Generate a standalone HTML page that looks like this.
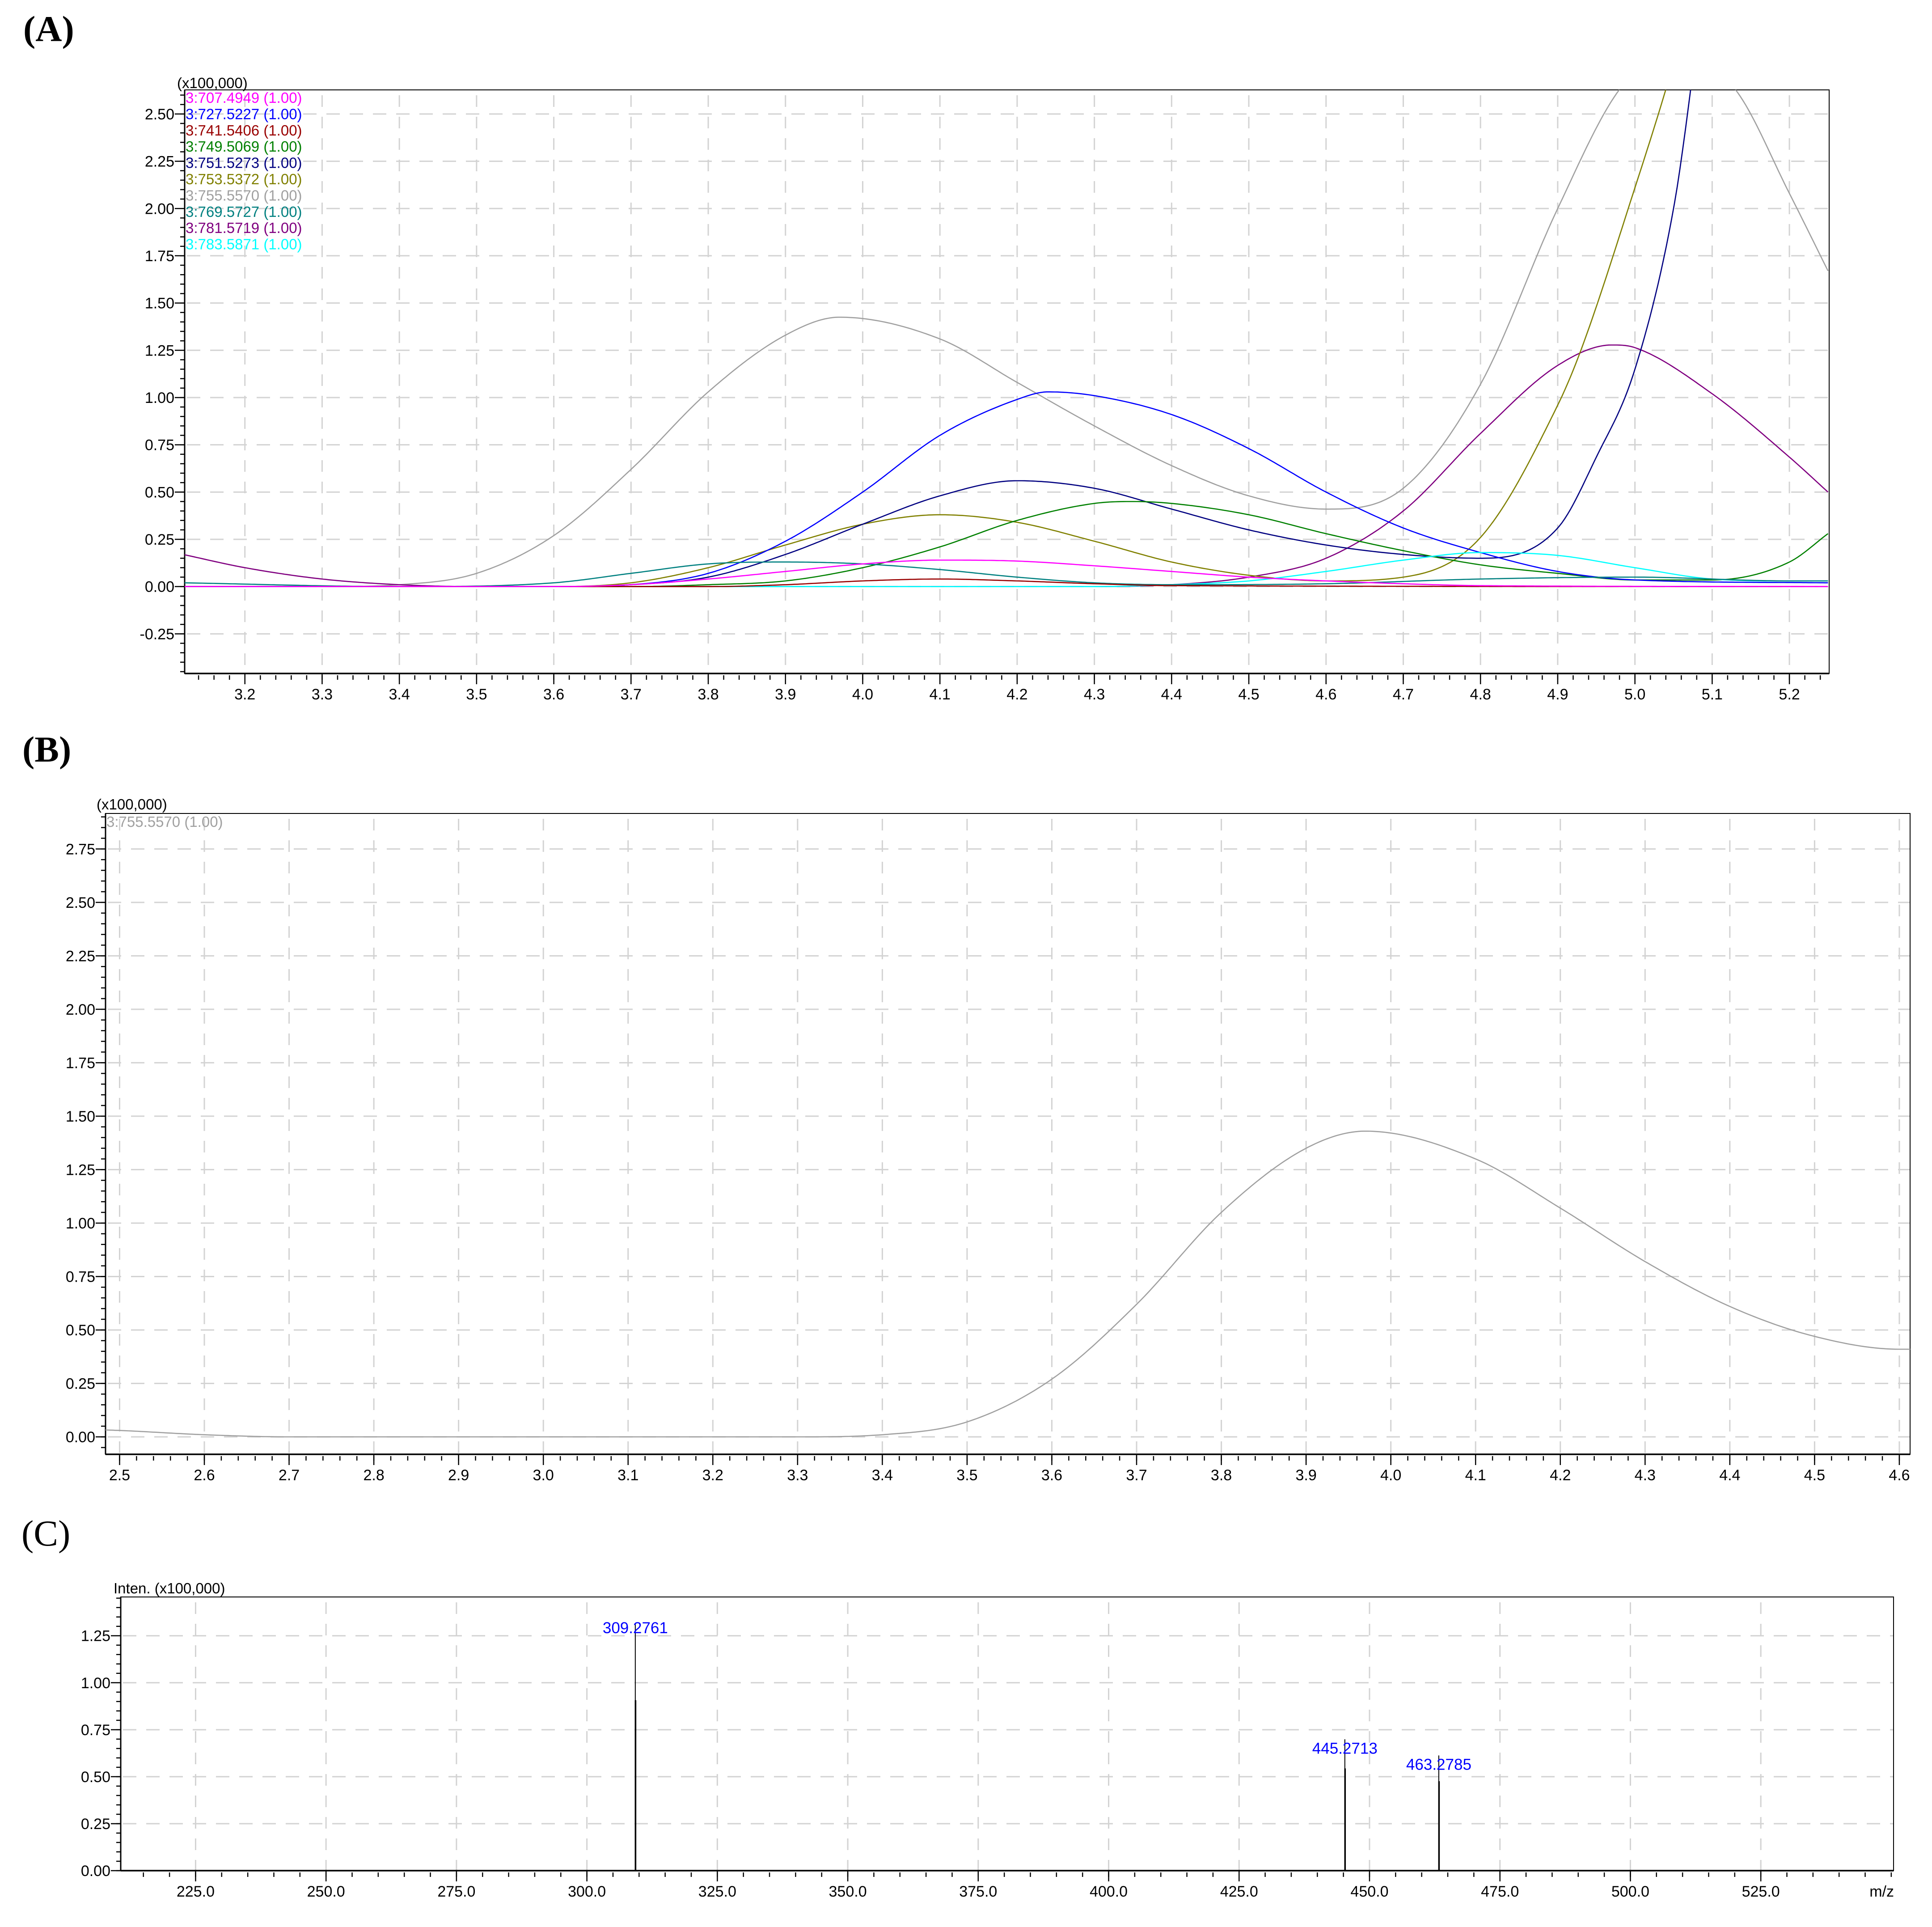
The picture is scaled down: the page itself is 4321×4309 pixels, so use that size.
<!DOCTYPE html>
<html><head><meta charset="utf-8"><style>
html,body{margin:0;padding:0;background:#fff;}
svg text{font-family:"Liberation Sans",sans-serif;}
</style></head><body>
<svg id="fig" xmlns="http://www.w3.org/2000/svg" width="4321" height="4304" viewBox="0 0 4321 4304">
<rect x="0" y="0" width="4321" height="4304" fill="#fff"/>
<text x="52" y="92" style="font-family:'Liberation Serif',serif;font-weight:bold;font-size:82px">(A)</text>
<text x="50" y="1703" style="font-family:'Liberation Serif',serif;font-weight:bold;font-size:82px">(B)</text>
<text x="48" y="3456" style="font-family:'Liberation Serif',serif;font-size:82px">(C)</text>
</svg>
<script>
// ---------- Panel A data (retention time in min, intensity x100,000) ----------
const aSeriesNames = ["3:707.4949 (1.00)","3:727.5227 (1.00)","3:741.5406 (1.00)","3:749.5069 (1.00)","3:751.5273 (1.00)","3:753.5372 (1.00)","3:755.5570 (1.00)","3:769.5727 (1.00)","3:781.5719 (1.00)","3:783.5871 (1.00)"];
const aSeriesColors = ["#ff00ff","#0000ff","#990000","#008000","#000080","#808000","#a0a0a0","#008080","#800080","#00ffff"];
const aRt707 = [3.12,3.6,3.7,3.8,3.9,4.0,4.1,4.2,4.3,4.4,4.5,4.6,4.7,4.8,5.25];
const aInt707 = [0,0,0.01,0.04,0.08,0.12,0.14,0.135,0.11,0.08,0.05,0.03,0.015,0.005,0];
const aRt727 = [3.12,3.6,3.7,3.8,3.9,4.0,4.1,4.2,4.24,4.3,4.4,4.5,4.6,4.7,4.8,4.9,5.0,5.25];
const aInt727 = [0,0,0.01,0.07,0.24,0.5,0.8,0.99,1.03,1.01,0.91,0.73,0.5,0.31,0.18,0.08,0.035,0.02];
const aRt741 = [3.12,3.8,3.9,4.0,4.1,4.2,4.3,4.4,5.25];
const aInt741 = [0,0,0.01,0.03,0.04,0.03,0.015,0.005,0];
const aRt749 = [3.12,3.7,3.8,3.9,4.0,4.1,4.2,4.3,4.35,4.4,4.5,4.6,4.7,4.8,4.9,5.0,5.1,5.2,5.25];
const aInt749 = [0,0,0.01,0.03,0.1,0.21,0.35,0.44,0.45,0.44,0.38,0.28,0.19,0.115,0.07,0.035,0.035,0.13,0.28];
const aRt751 = [3.12,3.6,3.7,3.8,3.9,4.0,4.1,4.2,4.3,4.4,4.5,4.6,4.7,4.8,4.9,4.95,5.0,5.05,5.1,5.25];
const aInt751 = [0,0,0.01,0.05,0.17,0.33,0.48,0.56,0.52,0.41,0.3,0.22,0.17,0.15,0.31,0.685,1.15,2.0,3.4,5];
const aRt753 = [3.12,3.6,3.7,3.8,3.9,4.0,4.1,4.2,4.3,4.4,4.5,4.6,4.7,4.8,4.9,4.93,5.0,5.04,5.1,5.25];
const aInt753 = [0,0,0.02,0.1,0.22,0.33,0.38,0.34,0.24,0.13,0.06,0.03,0.05,0.26,0.96,1.25,2.11,2.63,3.5,5];
const aRt755 = [3.12,3.3,3.4,3.5,3.6,3.7,3.8,3.9,3.97,4.1,4.2,4.3,4.4,4.5,4.6,4.7,4.8,4.9,4.98,5.05,5.13,5.2,5.25];
const aInt755 = [0.0,0.0,0.01,0.07,0.27,0.62,1.03,1.33,1.425,1.31,1.08,0.85,0.64,0.48,0.41,0.52,1.07,2.0,2.63,2.85,2.63,2.08,1.67];
const aRt769 = [3.12,3.4,3.6,3.7,3.8,3.9,4.0,4.1,4.2,4.3,4.4,4.6,4.8,5.0,5.2,5.25];
const aInt769 = [0.02,0.0,0.02,0.07,0.12,0.13,0.12,0.09,0.05,0.02,0.01,0.015,0.04,0.05,0.03,0.03];
const aRt781 = [3.12,3.2,3.3,3.4,3.5,4.3,4.4,4.5,4.6,4.7,4.8,4.9,4.97,5.0,5.1,5.2,5.25];
const aInt781 = [0.17,0.1,0.04,0.01,0,0,0.01,0.05,0.15,0.4,0.81,1.17,1.278,1.264,1.02,0.685,0.5];
const aRt783 = [3.12,4.3,4.4,4.5,4.6,4.7,4.8,4.9,5.0,5.1,5.2,5.25];
const aInt783 = [0,0,0.01,0.03,0.08,0.14,0.18,0.165,0.1,0.04,0.03,0.03];
const aXTicks = ["3.2","3.3","3.4","3.5","3.6","3.7","3.8","3.9","4.0","4.1","4.2","4.3","4.4","4.5","4.6","4.7","4.8","4.9","5.0","5.1","5.2"];
const aYTicks = ["-0.25","0.00","0.25","0.50","0.75","1.00","1.25","1.50","1.75","2.00","2.25","2.50"];

// ---------- Panel B data ----------
const bRt755 = [2.46,2.5,2.6,2.7,3.3,3.4,3.5,3.6,3.7,3.8,3.9,3.97,4.1,4.2,4.3,4.4,4.5,4.6,4.62];
const bInt755 = [0.035,0.03,0.01,0.0,0.0,0.01,0.07,0.27,0.62,1.05,1.35,1.43,1.30,1.07,0.82,0.61,0.47,0.41,0.41];
const bXTicks = ["2.5","2.6","2.7","2.8","2.9","3.0","3.1","3.2","3.3","3.4","3.5","3.6","3.7","3.8","3.9","4.0","4.1","4.2","4.3","4.4","4.5","4.6"];
const bYTicks = ["0.00","0.25","0.50","0.75","1.00","1.25","1.50","1.75","2.00","2.25","2.50","2.75"];

// ---------- Panel C data (mass spectrum) ----------
const cMz = [309.2761,445.2713,463.2785];
const cInten = [1.316,0.699,0.613];
const cIntenCore = [0.907,0.544,0.476];
const cPeakLabels = ["309.2761","445.2713","463.2785"];
const cXTicks = ["225.0","250.0","275.0","300.0","325.0","350.0","375.0","400.0","425.0","450.0","475.0","500.0","525.0"];
const cYTicks = ["0.00","0.25","0.50","0.75","1.00","1.25"];

const NS="http://www.w3.org/2000/svg";
const svg=document.getElementById('fig');
function mk(tag,attrs,parent){const e=document.createElementNS(NS,tag);for(const k in attrs)e.setAttribute(k,attrs[k]);(parent||svg).appendChild(e);return e;}

function makeAxes(id,box,xr,yr,xTicks,xMinorStep,yTicks,yMinorStep){
  const X=v=>box.x0+(v-xr[0])/(xr[1]-xr[0])*(box.x1-box.x0);
  const Y=v=>box.y1-(v-yr[0])/(yr[1]-yr[0])*(box.y1-box.y0);
  const g=mk('g',{});
  
  
  xTicks.forEach(t=>{const x=X(parseFloat(t));
    const l=mk('line',{x1:x,x2:x,y1:box.y0+12,y2:box.y1,stroke:'#d3d3d3','stroke-width':3,'stroke-dasharray':'26 22'},g);
    
    
  });
  yTicks.forEach(t=>{const y=Y(parseFloat(t));
    const l=mk('line',{x1:box.x0+5,x2:box.x1,y1:y,y2:y,stroke:'#d3d3d3','stroke-width':3,'stroke-dasharray':'30 22'},g);
    
    
  });
  const e=1e-6;
  for(let v=Math.ceil(xr[0]/xMinorStep)*xMinorStep; v<=xr[1]+e; v+=xMinorStep){
    const x=X(v); mk('line',{x1:x,x2:x,y1:box.y1+4,y2:box.y1+14,stroke:'#000','stroke-width':2.5},g);
  }
  for(let v=Math.ceil(yr[0]/yMinorStep)*yMinorStep; v<=yr[1]+e; v+=yMinorStep){
    const y=Y(v); mk('line',{x1:box.x0-10,x2:box.x0,y1:y,y2:y,stroke:'#000','stroke-width':2.5},g);
  }
  xTicks.forEach(t=>{const x=X(parseFloat(t));
    mk('line',{x1:x,x2:x,y1:box.y1,y2:box.y1+24,stroke:'#000','stroke-width':2.5},g);
    const tx=mk('text',{x:x,y:box.y1+58,'font-size':34,'text-anchor':'middle',fill:'#000'},g);
    tx.textContent=t;
    
    
  });
  yTicks.forEach(t=>{const y=Y(parseFloat(t));
    mk('line',{x1:box.x0-22,x2:box.x0,y1:y,y2:y,stroke:'#000','stroke-width':2.5},g);
    const tx=mk('text',{x:box.x0-23,y:y+12,'font-size':34,'text-anchor':'end',fill:'#000'},g);
    tx.textContent=t;
    
    
  });
  const r=mk('rect',{x:box.x0,y:box.y0,width:box.x1-box.x0,height:box.y1-box.y0,fill:'none',stroke:'#000','stroke-width':2});
  
  
  mk('line',{x1:box.x0,x2:box.x1,y1:box.y1,y2:box.y1,stroke:'#000','stroke-width':3.5});
  mk('line',{x1:box.x0,x2:box.x0,y1:box.y0,y2:box.y1,stroke:'#000','stroke-width':3});
  const cp=mk('clipPath',{id:id+'-clip'});
  mk('rect',{x:box.x0,y:box.y0,width:box.x1-box.x0,height:box.y1-box.y0},cp);
  return {X,Y};
}

function interp(xs,ys){
  const n=xs.length,d=[],m=new Array(n);
  for(let i=0;i<n-1;i++)d.push((ys[i+1]-ys[i])/(xs[i+1]-xs[i]));
  m[0]=d[0];m[n-1]=d[n-2];
  for(let i=1;i<n-1;i++){ if(d[i-1]*d[i]<=0)m[i]=0; else m[i]=(d[i-1]+d[i])/2; }
  for(let i=0;i<n-1;i++){ if(d[i]===0){m[i]=0;m[i+1]=0;continue;}
    const a=m[i]/d[i],b=m[i+1]/d[i],s=a*a+b*b; if(s>9){const t=3/Math.sqrt(s);m[i]=t*a*d[i];m[i+1]=t*b*d[i];} }
  return x=>{let i=0;while(i<n-2&&x>xs[i+1])i++;
    const h=xs[i+1]-xs[i],t=(x-xs[i])/h,t2=t*t,t3=t2*t;
    return (2*t3-3*t2+1)*ys[i]+(t3-2*t2+t)*h*m[i]+(-2*t3+3*t2)*ys[i+1]+(t3-t2)*h*m[i+1];};
}
function curve(id,ax,xs,ys,color,name){
  const f=interp(xs,ys);let dstr='';
  const N=600;
  for(let k=0;k<=N;k++){const x=xs[0]+(xs[xs.length-1]-xs[0])*k/N;
    dstr+=(k?'L':'M')+ax.X(x).toFixed(1)+' '+ax.Y(f(x)).toFixed(1);}
  const p=mk('path',{d:dstr,fill:'none',stroke:color,'stroke-width':2.6,'clip-path':'url(#'+id+'-clip)'});
  
  
}

// ---------- Panel A ----------
const boxA={x0:413,y0:201,x1:4091,y1:1506};
const axA=makeAxes('panel-a',boxA,[3.122,5.2515],[-0.4597,2.6275],aXTicks,0.02,aYTicks,0.05);
const aRts=[aRt707,aRt727,aRt741,aRt749,aRt751,aRt753,aRt755,aRt769,aRt781,aRt783];
const aInts=[aInt707,aInt727,aInt741,aInt749,aInt751,aInt753,aInt755,aInt769,aInt781,aInt783];
const drawOrder=[6,8,5,4,3,1,9,7,2,0];
drawOrder.forEach(i=>curve('panel-a',axA,aRts[i],aInts[i],aSeriesColors[i],'chromatogram-'+aSeriesNames[i].slice(2,10).replace('.','-')));
let t=mk('text',{x:396,y:197,'font-size':33,fill:'#000'});t.textContent='(x100,000)';


aSeriesNames.forEach((nm,i)=>{
  const tx=mk('text',{x:415,y:230+i*36.4,'font-size':33,fill:aSeriesColors[i]});
  tx.textContent=nm;
  
  
});

// ---------- Panel B ----------
const boxB={x0:236,y0:1819,x1:4272,y1:3252};
const axB=makeAxes('panel-b',boxB,[2.4834,4.6127],[-0.0816,2.916],bXTicks,0.02,bYTicks,0.05);
curve('panel-b',axB,bRt755,bInt755,'#a0a0a0','chromatogram-755-5570');
t=mk('text',{x:216,y:1810,'font-size':33,fill:'#000'});t.textContent='(x100,000)';


t=mk('text',{x:238,y:1849,'font-size':33,fill:'#a0a0a0'});t.textContent='3:755.5570 (1.00)';



// ---------- Panel C ----------
const boxC={x0:270,y0:3571,x1:4235,y1:4183};
const axC=makeAxes('panel-c',boxC,[210.65,550.44],[0,1.4564],cXTicks,5,cYTicks,0.05);
cMz.forEach((mz,i)=>{
  const x=axC.X(mz);
  const l=mk('line',{x1:x,x2:x,y1:axC.Y(0),y2:axC.Y(cInten[i]),stroke:'#000','stroke-width':2});
  
  
  const l2=mk('line',{x1:x+0.5,x2:x+0.5,y1:axC.Y(0),y2:axC.Y(cIntenCore[i]),stroke:'#000','stroke-width':3.5});
  
  
  const tx=mk('text',{x:x,y:axC.Y(cInten[i])+(i===0?22:32),'font-size':35,'text-anchor':'middle',fill:'#0000ff'});
  tx.textContent=cPeakLabels[i];
  
  
});
t=mk('text',{x:254,y:3563,'font-size':33,fill:'#000'});t.textContent='Inten. (x100,000)';


t=mk('text',{x:4236,y:4241,'font-size':34,'text-anchor':'end',fill:'#000'});t.textContent='m/z';


</script>
</body></html>
